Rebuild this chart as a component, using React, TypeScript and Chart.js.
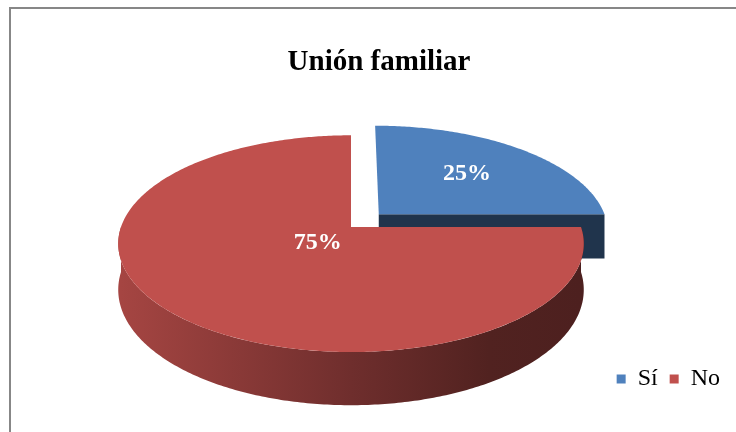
import React, { useEffect, useRef } from 'react';
import { Chart, registerables } from 'chart.js';

Chart.register(...registerables);

// ---- data ----
const TITLE = 'Unión familiar';
const categories = ['Sí', 'No'];
const values = [25, 75];

// ---- styles ----
const COLORS = ['#4F81BD', '#C0504D'];
const EXPLODE = [40, 0];
const FONT = "'Liberation Serif', 'Times New Roman', serif";

// ---- 3D projection (layout) ----
const CX = 351;
const CY = 227;
const R = 230;
const TILT = 0.46;
const DIST = 1495;
const DEPTH = 45;

function project(X: number, Y: number, Z: number): [number, number] {
  const s = DIST / (DIST - Y);
  return [CX + X * s, CY + (Y * TILT + Z) * s];
}

function shade(hex: string, k: number): string {
  const h = hex.replace('#', '');
  const r = Math.round(parseInt(h.slice(0, 2), 16) * k);
  const g = Math.round(parseInt(h.slice(2, 4), 16) * k);
  const b = Math.round(parseInt(h.slice(4, 6), 16) * k);
  return `rgb(${r},${g},${b})`;
}

function frontIntervals(s: number, e: number): [number, number][] {
  const out: [number, number][] = [];
  for (let k = -2; k <= 2; k++) {
    const a = Math.max(s, 2 * Math.PI * k);
    const b = Math.min(e, 2 * Math.PI * k + Math.PI);
    if (b - a > 1e-6) out.push([a, b]);
  }
  return out;
}

const pie3d = {
  id: 'pie3d',
  beforeDatasetsDraw(chart: any) {
    const ctx: CanvasRenderingContext2D = chart.ctx;
    const meta = chart.getDatasetMeta(0);
    const data = chart.data.datasets[0].data as number[];
    const total = data.reduce((a, b) => a + b, 0);
    const slices = meta.data.map((arc: any, i: number) => {
      const p = arc.getProps(['startAngle', 'endAngle'], true);
      const off = arc.options.offset || 0;
      const mid = (p.startAngle + p.endAngle) / 2;
      const delta = p.endAngle - p.startAngle;
      const cd = delta > 0 ? (2 * R * Math.sin(delta / 2)) / (1.5 * delta) : 0;
      return {
        i,
        start: p.startAngle,
        end: p.endAngle,
        mid,
        ox: off * Math.cos(mid),
        oy: off * Math.sin(mid),
        cd,
        color: arc.options.backgroundColor as string,
        value: data[i],
      };
    });

    const rim = (sl: any, t: number, z: number) =>
      project(sl.ox + R * Math.cos(t), sl.oy + R * Math.sin(t), z);
    const steps = (a: number, b: number) => Math.max(8, Math.ceil(Math.abs(b - a) * 80));

    const order = [...slices].sort(
      (a, b) => (a.oy + a.cd * Math.sin(a.mid)) - (b.oy + b.cd * Math.sin(b.mid))
    );

    ctx.save();
    // walls
    for (const sl of order) {
      // radial faces
      const faces: number[] = [];
      if (-Math.cos(sl.start) > 0.05) faces.push(sl.start);
      if (Math.cos(sl.end) > 0.05) faces.push(sl.end);
      for (const t of faces) {
        const c0 = project(sl.ox, sl.oy, 0);
        const r0 = rim(sl, t, 0);
        const r1 = rim(sl, t, DEPTH);
        const c1 = project(sl.ox, sl.oy, DEPTH);
        ctx.beginPath();
        ctx.moveTo(c0[0], c0[1]);
        ctx.lineTo(r0[0], r0[1]);
        ctx.lineTo(r1[0], r1[1]);
        ctx.lineTo(c1[0], c1[1]);
        ctx.closePath();
        ctx.fillStyle = shade(sl.color, 0.4);
        ctx.fill();
      }
      // outer wall
      for (const [a, b] of frontIntervals(sl.start, sl.end)) {
        const n = steps(a, b);
        ctx.beginPath();
        for (let k = 0; k <= n; k++) {
          const t = a + ((b - a) * k) / n;
          const p = rim(sl, t, 0);
          if (k === 0) ctx.moveTo(p[0], p[1]);
          else ctx.lineTo(p[0], p[1]);
        }
        for (let k = n; k >= 0; k--) {
          const t = a + ((b - a) * k) / n;
          const p = rim(sl, t, DEPTH);
          ctx.lineTo(p[0], p[1]);
        }
        ctx.closePath();
        const g = ctx.createLinearGradient(CX - R, 0, CX + R, 0);
        g.addColorStop(0, shade(sl.color, 0.86));
        g.addColorStop(0.5, shade(sl.color, 0.58));
        g.addColorStop(0.8, shade(sl.color, 0.42));
        g.addColorStop(1, shade(sl.color, 0.4));
        ctx.fillStyle = g;
        ctx.fill();
      }
    }
    // tops
    for (const sl of order) {
      const n = steps(sl.start, sl.end);
      const c = project(sl.ox, sl.oy, 0);
      ctx.beginPath();
      ctx.moveTo(c[0], c[1]);
      for (let k = 0; k <= n; k++) {
        const t = sl.start + ((sl.end - sl.start) * k) / n;
        const p = rim(sl, t, 0);
        ctx.lineTo(p[0], p[1]);
      }
      ctx.closePath();
      ctx.fillStyle = sl.color;
      ctx.fill();
    }
    // labels
    ctx.fillStyle = '#FFFFFF';
    ctx.font = `bold 24px ${FONT}`;
    ctx.textAlign = 'center';
    ctx.textBaseline = 'middle';
    for (const sl of slices) {
      const p = project(sl.ox + sl.cd * Math.cos(sl.mid), sl.oy + sl.cd * Math.sin(sl.mid), 0);
      ctx.fillText(`${Math.round((sl.value / total) * 100)}%`, p[0], p[1]);
    }
    ctx.restore();
    return false;
  },
};

export default function App() {
  const ref = useRef<HTMLCanvasElement>(null);
  useEffect(() => {
    const chart = new Chart(ref.current as HTMLCanvasElement, {
      type: 'pie',
      data: {
        labels: categories,
        datasets: [
          {
            data: values,
            backgroundColor: COLORS,
            borderWidth: 0,
            offset: EXPLODE,
          },
        ],
      },
      options: {
        responsive: false,
        animation: false,
        events: [],
        layout: { padding: { left: 26, right: 4, top: 0, bottom: 31 } },
        plugins: {
          title: {
            display: true,
            text: TITLE,
            color: '#000000',
            font: { family: FONT, size: 29, weight: 'bold' },
            padding: { top: 45, bottom: 0 },
          },
          legend: {
            display: true,
            position: 'bottom',
            align: 'end',
            labels: {
              color: '#000000',
              font: { family: FONT, size: 24 },
              boxWidth: 9,
              boxHeight: 9,
              padding: 12,
            },
          },
          tooltip: { enabled: false },
        },
      } as any,
      plugins: [pie3d],
    });
    return () => chart.destroy();
  }, []);
  return (
    <div
      style={{
        position: 'fixed',
        left: 0,
        top: 0,
        width: 736,
        height: 432,
        overflow: 'hidden',
        background: '#ffffff',
      }}
    >
      <div
        style={{
          position: 'absolute',
          left: 9,
          top: 7,
          width: 800,
          height: 500,
          border: '2px solid #878787',
          boxSizing: 'border-box',
        }}
      />
      <canvas
        ref={ref}
        width={736}
        height={432}
        style={{ position: 'absolute', left: 0, top: 0, width: 736, height: 432 }}
      />
    </div>
  );
}
